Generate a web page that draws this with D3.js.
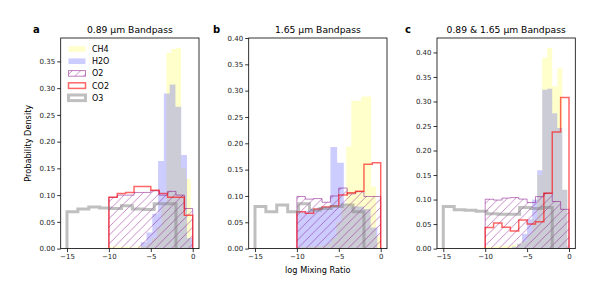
<!DOCTYPE html>
<html>
<head>
<meta charset="utf-8">
<script src="https://cdn.jsdelivr.net/npm/d3@7"></script>
<style>
  body { margin: 0; background: #fff; }
  svg { font-family: "DejaVu Sans", sans-serif; }
</style>
</head>
<body>
<div id="chart"></div>
<script>
(function(){
// gases, in plotting / legend order
const gases = ["CH4", "H2O", "O2", "CO2", "O3"];
const titles = ["0.89 µm Bandpass", "1.65 µm Bandpass", "0.89 & 1.65 µm Bandpass"];
const letters = ["a", "b", "c"];
const xTicks = [-15, -10, -5, 0];

// panel a: first bin edge, bin width (gas order), then heights
const startsA = [-10.1, -6.2, -10, -10, -15];
const widthsA = [0.58, 0.69, 1, 1, 1.3];
const ch4A = [0.004, 0.004, 0.004, 0.003, 0.003, 0.002, 0.005, 0.005, 0.01, 0.02, 0.04, 0.08, 0.366, 0.373, 0.375, 0.15, 0.13];
const h2oA = [0.012, 0.03, 0.065, 0.164, 0.29, 0.307, 0.265, 0.175, 0.02];
const o2A = [0.096, 0.1, 0.1, 0.105, 0.105, 0.108, 0.1, 0.107, 0.1, 0.075];
const co2A = [0.096, 0.103, 0.105, 0.116, 0.116, 0.109, 0.103, 0.096, 0.096, 0.0625];
const o3A = [0.069, 0.074, 0.078, 0.076, 0.075, 0.08, 0.074, 0.073, 0.084, 0.084];

// panel b
const startsB = [-10, -10, -10, -10, -15];
const widthsB = [0.59, 0.8, 1, 1, 1.3];
const ch4B = [0.003, 0.003, 0.004, 0.004, 0.005, 0.006, 0.01, 0.02, 0.05, 0.08, 0.194, 0.281, 0.281, 0.289, 0.289, 0.118, 0.023];
const h2oB = [0.07, 0.072, 0.075, 0.078, 0.08, 0.193, 0.163, 0.08, 0.08, 0.08, 0.075, 0.04];
const o2B = [0.099, 0.094, 0.095, 0.088, 0.1, 0.115, 0.104, 0.108, 0.099, 0.099];
const co2B = [0.07, 0.067, 0.075, 0.079, 0.081, 0.102, 0.106, 0.109, 0.16, 0.163];
const o3B = [0.08, 0.07, 0.083, 0.07, 0.085, 0.073, 0.076, 0.08, 0.083, 0.07];

// panel c
const startsC = [-10.4, -6.8, -10, -10, -15];
const widthsC = [0.6, 0.6, 1, 1, 1.3];
const ch4C = [0.003, 0.004, 0.004, 0.005, 0.006, 0.006, 0.008, 0.01, 0.015, 0.03, 0.06, 0.15, 0.389, 0.409, 0.331, 0.368, 0.12];
const h2oC = [0.004, 0.01, 0.03, 0.06, 0.1, 0.16, 0.324, 0.326, 0.276, 0.246, 0.12];
const o2C = [0.1007, 0.099, 0.103, 0.104, 0.101, 0.094, 0.106, 0.113, 0.096, 0.08];
const co2C = [0.043, 0.052, 0.0435, 0.036, 0.0585, 0.05, 0.055, 0.113, 0.238, 0.308];
const o3C = [0.086, 0.079, 0.078, 0.076, 0.071, 0.07, 0.07, 0.084, 0.082, 0.084];

// panel b's y limit was fixed by hand
const yLimB = 0.40;

const panels = [
  { starts: startsA, widths: widthsA, series: [ch4A, h2oA, o2A, co2A, o3A], ylim: null },
  { starts: startsB, widths: widthsB, series: [ch4B, h2oB, o2B, co2B, o3B], ylim: yLimB },
  { starts: startsC, widths: widthsC, series: [ch4C, h2oC, o2C, co2C, o3C], ylim: null }
];

const W = 600, H = 300;
const axLeft = [60.7, 248.7, 437], axW = 138.3;
const axTop = 38, axBottom = 248.6;

const styles = {
  CH4: { fill: "yellow", fillOpacity: 0.2, stroke: "none" },
  H2O: { fill: "blue", fillOpacity: 0.2, stroke: "none" },
  O2:  { fill: "url(#hatch)", fillOpacity: 1, stroke: "purple", strokeOpacity: 0.5, sw: 1 },
  CO2: { fill: "none", stroke: "red", strokeOpacity: 0.6, sw: 1.5 },
  O3:  { fill: "none", stroke: "gray", strokeOpacity: 0.5, sw: 3 }
};

const svg = d3.select("#chart").append("svg")
    .attr("width", W).attr("height", H);

// diagonal hatch for O2
const defs = svg.append("defs");
const hs = 8.4;
const pat = defs.append("pattern")
    .attr("id", "hatch")
    .attr("patternUnits", "userSpaceOnUse")
    .attr("width", hs).attr("height", hs);
pat.append("path")
    .attr("d", `M0,${hs} L${hs},0 M${-hs/2},${hs/2} L${hs/2},${-hs/2} M${hs/2},${hs*1.5} L${hs*1.5},${hs/2}`)
    .attr("stroke", "purple").attr("stroke-opacity", 0.5).attr("stroke-width", 0.9);

// step outline of a histogram
function stepPath(heights, start, width, x, y) {
  const pts = [[x(start), y(0)]];
  heights.forEach(function(h, i) {
    pts.push([x(start + i * width), y(h)]);
    pts.push([x(start + (i + 1) * width), y(h)]);
  });
  pts.push([x(start + heights.length * width), y(0)]);
  return "M" + pts.map(p => p[0].toFixed(2) + "," + p[1].toFixed(2)).join("L");
}

panels.forEach(function(p, k) {
  const x = d3.scaleLinear().domain([-15.75, 0.75]).range([axLeft[k], axLeft[k] + axW]);
  const ymax = p.ylim || d3.max(p.series.map(s => d3.max(s))) * 1.05;
  const y = d3.scaleLinear().domain([0, ymax]).range([axBottom, axTop]);

  const g = svg.append("g");
  const clipId = "clip" + k;
  defs.append("clipPath").attr("id", clipId).append("rect")
      .attr("x", axLeft[k]).attr("y", axTop).attr("width", axW).attr("height", axBottom - axTop);

  const plot = g.append("g").attr("clip-path", `url(#${clipId})`);
  gases.forEach(function(gas, j) {
    const st = styles[gas];
    const d = stepPath(p.series[j], p.starts[j], p.widths[j], x, y);
    plot.append("path")
        .attr("d", d)
        .attr("fill", st.fill)
        .attr("fill-opacity", st.fillOpacity || 0)
        .attr("stroke", st.stroke)
        .attr("stroke-opacity", st.strokeOpacity || 0)
        .attr("stroke-width", st.sw || 0)
        .attr("stroke-linejoin", "miter");
  });

  // axes
  const xAxis = d3.axisBottom(x).tickValues(xTicks).tickSize(3.5).tickPadding(2)
      .tickFormat(d => d < 0 ? "\u2212" + Math.abs(d) : d);
  const yAxis = d3.axisLeft(y).tickValues(d3.range(0, ymax + 1e-9, 0.05)).tickSize(3.5).tickPadding(2)
      .tickFormat(d3.format(".2f"));
  const gx = g.append("g").attr("transform", `translate(0,${axBottom})`).call(xAxis);
  const gy = g.append("g").attr("transform", `translate(${axLeft[k]},0)`).call(yAxis);
  [gx, gy].forEach(a => {
    a.select(".domain").remove();
    a.selectAll("line").attr("stroke", "#000").attr("stroke-width", 0.8);
    a.selectAll("text").attr("font-size", 7).attr("fill", "#222")
        .attr("font-family", "DejaVu Sans");
  });

  g.append("rect")
      .attr("x", axLeft[k]).attr("y", axTop).attr("width", axW).attr("height", axBottom - axTop)
      .attr("fill", "none").attr("stroke", "#000").attr("stroke-width", 0.8);

  g.append("text")
      .attr("x", axLeft[k] + axW / 2).attr("y", 33)
      .attr("text-anchor", "middle").attr("font-size", 9.2)
      .text(titles[k]);

  g.append("text")
      .attr("x", [33, 213, 405][k]).attr("y", 33)
      .attr("font-size", 10).attr("font-weight", "bold")
      .text(letters[k]);
});

// axis labels
svg.append("text")
    .attr("x", axLeft[1] + axW / 2).attr("y", 273)
    .attr("text-anchor", "middle").attr("font-size", 8.2)
    .text("log Mixing Ratio");
svg.append("text")
    .attr("transform", `translate(31,${(axTop + axBottom) / 2}) rotate(-90)`)
    .attr("text-anchor", "middle").attr("font-size", 8.2)
    .text("Probability Density");

// legend in panel a
const leg = svg.append("g");
gases.forEach(function(gas, j) {
  const st = styles[gas];
  const cy = 49 + j * 12.2;
  leg.append("rect")
      .attr("x", 68.5).attr("y", cy - 2.8).attr("width", 17).attr("height", 5.6)
      .attr("fill", st.fill)
      .attr("fill-opacity", st.fillOpacity || 0)
      .attr("stroke", st.stroke)
      .attr("stroke-opacity", st.strokeOpacity || 0)
      .attr("stroke-width", st.sw || 0);
  leg.append("text")
      .attr("x", 92).attr("y", cy + 2.9)
      .attr("font-size", 8)
      .text(gas);
});
})();
</script>
</body>
</html>
